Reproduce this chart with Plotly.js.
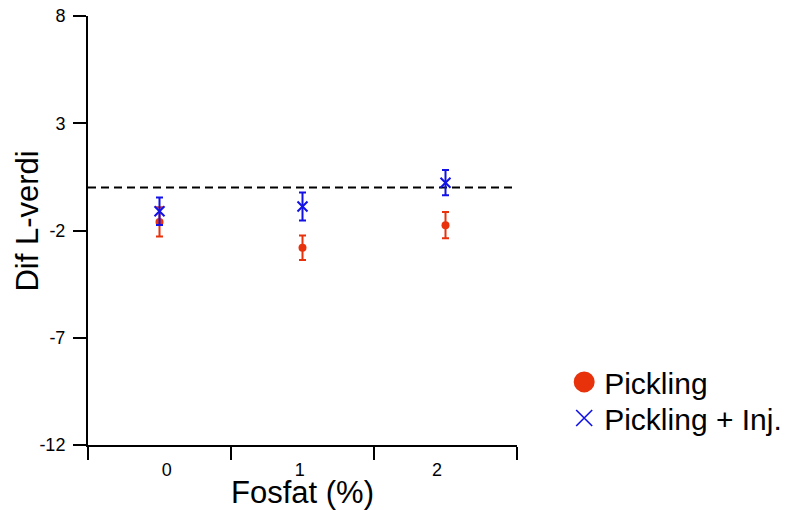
<!DOCTYPE html>
<html>
<head>
<meta charset="utf-8">
<script src="https://cdn.plot.ly/plotly-3.0.1.min.js"></script>
<style>
  html, body { margin: 0; padding: 0; background: #fff; }
  #chart { width: 790px; height: 510px; }
</style>
</head>
<body>
<div id="chart"></div>
<script>
// Phosphate level categories (x positions 0, 1, 2)
const categories = [0, 1, 2];
const tickLabels = ['0', '1', '2'];

// Value axis ticks
const yTicks = [-12, -7, -2, 3, 8];
const yTickLabels = ['-12', '-7', '-2', '3', '8'];

// Pickling: mean difference in L-value and error
const picklingMean = [-1.6, -2.8, -1.75];
const picklingErr  = [0.68, 0.57, 0.61];

// Pickling + injection
const injMean = [-1.1, -0.88, 0.23];
const injErr  = [0.64, 0.65, 0.59];

const RED = '#E8320C';
const BLUE = '#1212E6';
const FONT = 'Liberation Sans, Arial, sans-serif';

const traces = [
  {
    x: categories, y: picklingMean, type: 'scatter', mode: 'markers',
    name: 'Pickling', showlegend: false,
    marker: { symbol: 'circle', size: 8, color: RED },
    error_y: { type: 'data', array: picklingErr, visible: true, color: RED, thickness: 2, width: 3.5 }
  },
  {
    x: categories, y: injMean, type: 'scatter', mode: 'markers',
    name: 'Pickling + Inj.', showlegend: false,
    marker: { symbol: 'x-thin-open', size: 10, color: BLUE, line: { color: BLUE, width: 2 } },
    error_y: { type: 'data', array: injErr, visible: true, color: BLUE, thickness: 2, width: 3.5 }
  },
  // legend entries with larger symbols, one legend box each
  {
    x: [null], y: [null], type: 'scatter', mode: 'markers', name: 'Pickling',
    legend: 'legend',
    marker: { symbol: 'circle', size: 16, color: RED, line: { color: RED, width: 5 } }
  },
  {
    x: [null], y: [null], type: 'scatter', mode: 'markers', name: 'Pickling + Inj.',
    legend: 'legend2',
    marker: { symbol: 'x-thin-open', size: 16, color: BLUE, line: { color: BLUE, width: 1.6 } }
  },
  // category labels on an overlaid axis
  {
    x: categories, y: [null, null, null], type: 'scatter', mode: 'markers',
    xaxis: 'x2', showlegend: false, hoverinfo: 'skip'
  }
];

const legendStyle = {
  xanchor: 'left', yanchor: 'middle',
  font: { size: 30, family: FONT, color: '#000' },
  itemsizing: 'trace', bgcolor: 'rgba(0,0,0,0)'
};

const layout = {
  width: 790, height: 510,
  margin: { l: 88, r: 273, t: 16, b: 65, autoexpand: false },
  paper_bgcolor: '#fff', plot_bgcolor: '#fff',
  font: { family: FONT, color: '#000' },
  showlegend: true,
  legend: Object.assign({ x: 1.11, y: 0.147 }, legendStyle),
  legend2: Object.assign({ x: 1.11, y: 0.063 }, legendStyle),
  xaxis: {
    range: [-0.5, 2.5], automargin: false,
    tickvals: [-0.5, 0.5, 1.5, 2.5], showticklabels: false,
    ticks: 'outside', ticklen: 13, tickwidth: 2, tickcolor: '#000',
    showline: true, linecolor: '#000', linewidth: 2,
    showgrid: false, zeroline: false,
    title: { text: 'Fosfat (%)', font: { size: 31, family: FONT }, standoff: 23 }
  },
  xaxis2: {
    overlaying: 'x', side: 'bottom', range: [-0.5, 2.5],
    tickvals: [0.05, 0.98, 1.94], ticktext: tickLabels,
    ticks: '', showline: false, showgrid: false, zeroline: false,
    tickfont: { size: 18, family: FONT }, ticklabelstandoff: 12
  },
  yaxis: {
    range: [-12, 8], automargin: false,
    tickvals: yTicks, ticktext: yTickLabels,
    ticks: 'outside', ticklen: 13, tickwidth: 2, tickcolor: '#000',
    showline: true, linecolor: '#000', linewidth: 2,
    showgrid: false, zeroline: false,
    tickfont: { size: 18, family: FONT }, ticklabelstandoff: 4
  },
  annotations: [
    {
      text: 'Dif L-verdi', textangle: -90, showarrow: false,
      xref: 'paper', yref: 'paper', x: -0.142, y: 0.521,
      xanchor: 'center', yanchor: 'middle',
      font: { size: 31, family: FONT, color: '#000' }
    }
  ],
  shapes: [
    {
      type: 'line', xref: 'paper', x0: 0, x1: 1, yref: 'y', y0: 0, y1: 0,
      line: { color: '#000', width: 2, dash: '8px,5px' }, layer: 'below'
    }
  ]
};

Plotly.newPlot('chart', traces, layout, { displayModeBar: false, staticPlot: true });
</script>
</body>
</html>
